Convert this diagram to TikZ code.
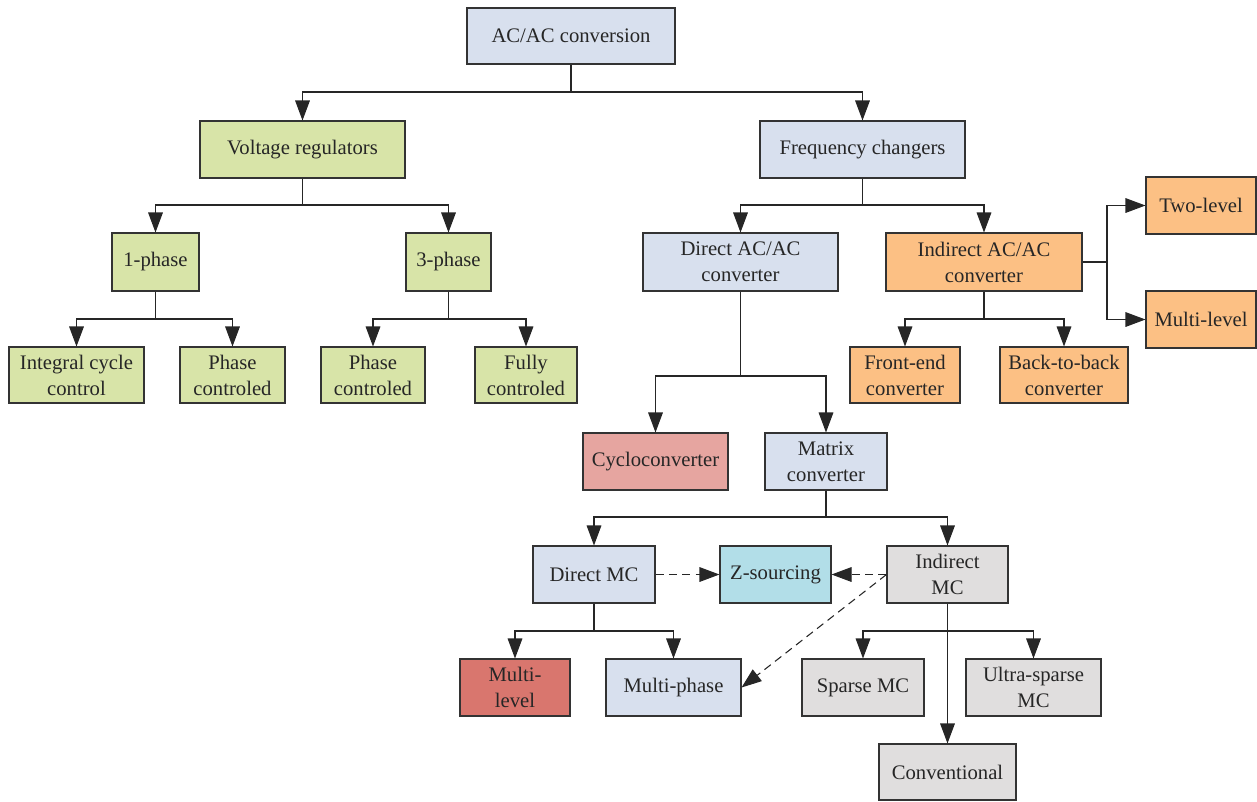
\documentclass[tikz,border=0pt]{standalone}
\usepackage{fontspec}
\setmainfont{Liberation Serif}
\usetikzlibrary{arrows.meta}
\definecolor{cblue}{RGB}{216,224,238}
\definecolor{cgreen}{RGB}{216,228,168}
\definecolor{corange}{RGB}{252,192,132}
\definecolor{cpink}{RGB}{230,165,160}
\definecolor{cred}{RGB}{217,118,110}
\definecolor{ccyan}{RGB}{178,222,232}
\definecolor{cgray}{RGB}{224,222,222}
\begin{document}
\begin{tikzpicture}[x=0.75pt,y=-0.75pt,
  box/.style={draw=black!80, line width=0.8pt, align=center, inner sep=0pt,
    font=\fontsize{15.5}{19.5}\selectfont, text=black!85},
  link/.style={line width=0.8pt, draw=black!85},
  arr/.style={link, -{Triangle[length=15pt,width=11pt]}},
  darr/.style={arr, dash pattern=on 6pt off 4pt}]
\useasboundingbox (0,0) rectangle (1257,801);

% level 0
\node[box, fill=cblue, minimum width=208*0.75pt, minimum height=56*0.75pt] (acac) at (571,36) {AC/AC conversion};

% level 1
\node[box, fill=cgreen, minimum width=205*0.75pt, minimum height=57*0.75pt] (vreg) at (302.5,149.5) {Voltage regulators};
\node[box, fill=cblue, minimum width=205*0.75pt, minimum height=57*0.75pt] (freq) at (862.5,149.5) {Frequency changers};

% level 2
\node[box, fill=cgreen, minimum width=87*0.75pt, minimum height=58*0.75pt] (ph1) at (155.5,262) {1-phase};
\node[box, fill=cgreen, minimum width=85*0.75pt, minimum height=58*0.75pt] (ph3) at (448.5,262) {3-phase};
\node[box, fill=cblue, minimum width=195*0.75pt, minimum height=58*0.75pt] (dac) at (740.5,262) {Direct AC/AC\\converter};
\node[box, fill=corange, minimum width=196*0.75pt, minimum height=58*0.75pt] (iac) at (984,262) {Indirect AC/AC\\converter};
\node[box, fill=corange, minimum width=110*0.75pt, minimum height=57*0.75pt] (two) at (1201,205.5) {Two-level};
\node[box, fill=corange, minimum width=110*0.75pt, minimum height=57*0.75pt] (mlo) at (1201,319.5) {Multi-level};

% level 3
\node[box, fill=cgreen, minimum width=135*0.75pt, minimum height=56*0.75pt] (icc) at (76.5,375) {Integral cycle\\control};
\node[box, fill=cgreen, minimum width=105*0.75pt, minimum height=56*0.75pt] (pc1) at (232.5,375) {Phase\\controled};
\node[box, fill=cgreen, minimum width=104*0.75pt, minimum height=56*0.75pt] (pc3) at (373,375) {Phase\\controled};
\node[box, fill=cgreen, minimum width=102*0.75pt, minimum height=56*0.75pt] (fc) at (526,375) {Fully\\controled};
\node[box, fill=corange, minimum width=110*0.75pt, minimum height=56*0.75pt] (fe) at (905,375) {Front-end\\converter};
\node[box, fill=corange, minimum width=128*0.75pt, minimum height=56*0.75pt] (btb) at (1064,375) {Back-to-back\\converter};

% level 4
\node[box, fill=cpink, minimum width=145*0.75pt, minimum height=57*0.75pt] (cyc) at (655.5,461.5) {Cycloconverter};
\node[box, fill=cblue, minimum width=122*0.75pt, minimum height=57*0.75pt] (mc) at (826,461.5) {Matrix\\converter};

% level 5
\node[box, fill=cblue, minimum width=122*0.75pt, minimum height=57*0.75pt] (dmc) at (594,574.5) {Direct MC};
\node[box, fill=ccyan, minimum width=111*0.75pt, minimum height=57*0.75pt] (zs) at (775.5,574.5) {Z-sourcing};
\node[box, fill=cgray, minimum width=121*0.75pt, minimum height=57*0.75pt] (imc) at (947.5,574.5) {Indirect\\MC};

% level 6
\node[box, fill=cred, minimum width=110*0.75pt, minimum height=57*0.75pt] (mlr) at (515,687.5) {Multi-\\level};
\node[box, fill=cblue, minimum width=135*0.75pt, minimum height=57*0.75pt] (mph) at (673.5,687.5) {Multi-phase};
\node[box, fill=cgray, minimum width=122*0.75pt, minimum height=57*0.75pt] (smc) at (863,687.5) {Sparse MC};
\node[box, fill=cgray, minimum width=135*0.75pt, minimum height=57*0.75pt] (usmc) at (1033.5,687.5) {Ultra-sparse\\MC};
\node[box, fill=cgray, minimum width=137*0.75pt, minimum height=56*0.75pt] (conv) at (947.5,772) {Conventional};

% junction points of the tree
\coordinate (j0) at (571,92);
\coordinate (j1) at (302.5,205);
\coordinate (j2) at (862.5,205);
\coordinate (j3) at (155.5,319);
\coordinate (j4) at (448.5,319);
\coordinate (j5) at (984,319);
\coordinate (j6) at (1107,262);
\coordinate (j7) at (740.5,376);
\coordinate (j8) at (826,517);
\coordinate (j9) at (594,631);
\coordinate (j10) at (947.5,631);

\draw[link] (acac.south) -- (j0);
\draw[arr] (j0) -| (vreg.north);
\draw[arr] (j0) -| (freq.north);

\draw[link] (vreg.south) -- (j1);
\draw[arr] (j1) -| (ph1.north);
\draw[arr] (j1) -| (ph3.north);

\draw[link] (freq.south) -- (j2);
\draw[arr] (j2) -| (dac.north);
\draw[arr] (j2) -| (iac.north);

\draw[link] (ph1.south) -- (j3);
\draw[arr] (j3) -| (icc.north);
\draw[arr] (j3) -| (pc1.north);

\draw[link] (ph3.south) -- (j4);
\draw[arr] (j4) -| (pc3.north);
\draw[arr] (j4) -| (fc.north);

\draw[link] (iac.south) -- (j5);
\draw[arr] (j5) -| (fe.north);
\draw[arr] (j5) -| (btb.north);

\draw[link] (iac.east) -- (j6);
\draw[arr] (j6) |- (two.west);
\draw[arr] (j6) |- (mlo.west);

\draw[link] (dac.south) -- (j7);
\draw[arr] (j7) -| (cyc.north);
\draw[arr] (j7) -| (mc.north);

\draw[link] (mc.south) -- (j8);
\draw[arr] (j8) -| (dmc.north);
\draw[arr] (j8) -| (imc.north);

\draw[link] (dmc.south) -- (j9);
\draw[arr] (j9) -| (mlr.north);
\draw[arr] (j9) -| (mph.north);

\draw[link] (imc.south) -- (j10);
\draw[arr] (j10) -| (smc.north);
\draw[arr] (j10) -| (usmc.north);
\draw[arr] (j10) -- (conv.north);

% dashed relations
\draw[darr] (dmc.east) -- (zs.west);
\draw[darr] (imc.west) -- (zs.east);
\draw[darr] (imc.west) -- (mph.east);
\end{tikzpicture}
\end{document}
